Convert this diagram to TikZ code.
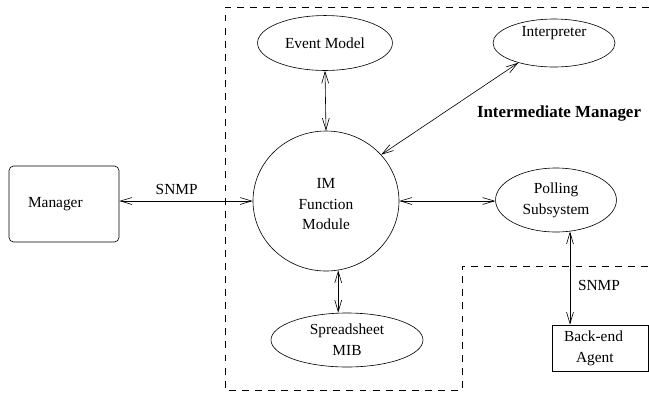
\documentclass[tikz,border=0pt]{standalone}
\usepackage{fontspec}
\setmainfont{Liberation Serif}
\usetikzlibrary{shapes.geometric,arrows.meta}
\begin{document}
\begin{tikzpicture}[x=0.65pt,y=-0.65pt,
        every node/.style={font=\fontsize{10pt}{13.5pt}\selectfont, align=center, inner sep=0pt},
        oval/.style={draw, ellipse},
        box/.style={draw, minimum width=#1, text width=46.8pt, align=left},
        link/.style={{Straight Barb[length=7.5pt,width=4.5pt]}-{Straight Barb[length=7.5pt,width=4.5pt]}}]
            \useasboundingbox (0,0) rectangle (649,392);
            \draw[dash pattern=on 4.5pt off 4pt] (649,7) -- (225,7) -- (225,390) -- (462,390) -- (462,266) -- (649,266);

            \node[box=71.5pt, rounded corners=3pt, minimum height=49.4pt] (Mgr) at (64,204) {Manager};
            \node[oval, minimum width=94.9pt, minimum height=91pt] (IM) at (326,201) {\\[-3pt]IM\\Function\\Module};
            \node[oval, minimum width=87.7pt, minimum height=35.7pt] (Event) at (325,43) {Event Model};
            \node[oval, minimum width=79.3pt, minimum height=30.5pt] (Interp) at (554,43) {Interpreter\\[2pt]};
            \node[oval, minimum width=78.6pt, minimum height=41.6pt] (Poll) at (556,200) {Polling\\Subsystem};
            \node[oval, minimum width=98.8pt, minimum height=35.1pt] (SMIB) at (347,340) {Spreadsheet\\MIB};
            \node[box=62.4pt, minimum height=29.9pt] (Agent) at (600,348) {Back-end\\\hspace*{7.8pt}Agent};
            \node[font=\fontsize{11pt}{13pt}\selectfont\bfseries] (IMlabel) at (559,113) {Intermediate Manager};

            \draw[link] (IM.west -| Mgr.east) -- node[above=4pt, pos=0.43] {SNMP} (IM.west);
            \draw[link] (Event.south) -- (IM.north);
            \draw[link] (Interp.209) -- (IM.40);
            \draw[link] (IM.east) -- (IM.east -| Poll.west);
            \draw[link] (IM.-80) -- (IM.-80 |- SMIB.north);
            \draw[link] (Poll.-66) -- node[right=5pt, pos=0.58] {SNMP} (Poll.-66 |- Agent.north);
        \end{tikzpicture}
\end{document}
